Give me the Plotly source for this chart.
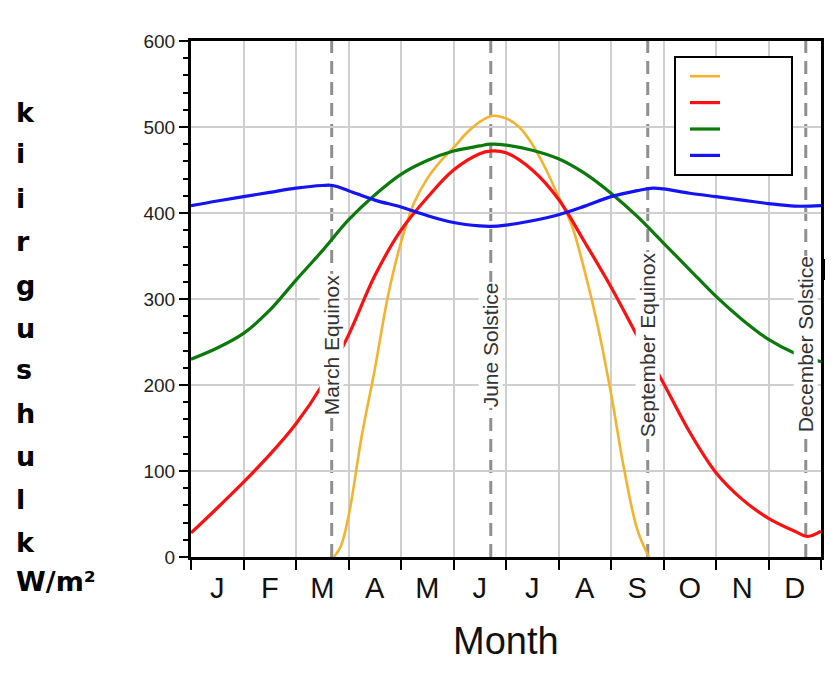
import plotly.graph_objects as go

# ---------------- data (x in months from Jan 1, 0..12) ----------------
month_letters = ["J", "F", "M", "A", "M", "J", "J", "A", "S", "O", "N", "D"]

blue_x = [0, 0.5, 1, 1.5, 2, 2.5, 2.7, 3, 3.5, 4, 4.5, 5, 5.5, 5.7, 6, 6.5, 7,
          7.5, 8, 8.5, 8.8, 9, 9.5, 10, 10.5, 11, 11.5, 12]
blue_vals = [408.5, 414, 419, 424, 429, 432, 432, 426, 415, 407, 397, 389, 385, 384.5,
             386, 391, 398, 408, 419, 426, 429, 428, 423, 419, 415, 411, 408, 408.5]

green_x = [0, 0.5, 1, 1.5, 2, 2.5, 3, 3.5, 4, 4.5, 5, 5.5, 5.7, 6, 6.5, 7,
           7.5, 8, 8.5, 9, 9.5, 10, 10.5, 11, 11.5, 12]
green_vals = [230, 243, 260, 287, 322, 356, 392, 421, 445, 461, 472, 478, 480,
              479, 473, 463, 446, 423, 396, 365, 334, 303, 276, 253, 237, 227]

red_x = [0, 0.5, 1, 1.5, 2, 2.5, 3, 3.5, 4, 4.5, 5, 5.5, 5.7, 6, 6.5, 7,
         7.5, 8, 8.5, 9, 9.5, 10, 10.5, 11, 11.5, 11.75, 12]
red_vals = [28, 57, 87, 119, 155, 200, 258, 327, 380, 418, 450, 469, 472, 470,
            450, 416, 366, 314, 257, 202, 145, 98, 67, 45, 30, 24, 30]

orange_x = [2.72, 2.85, 3, 3.25, 3.5, 3.75, 4, 4.25, 4.5, 4.75, 5, 5.25, 5.5, 5.75,
            6, 6.25, 6.5, 6.75, 7, 7.25, 7.5, 7.75, 8, 8.25, 8.5, 8.72]
orange_vals = [0, 12, 47, 140, 218, 303, 366, 412, 440, 460, 476, 493, 506, 513,
               510, 500, 480, 452, 419, 386, 332, 268, 190, 102, 32, 0]

event_x = [2.68, 5.71, 8.70, 11.71]
event_names = ["March Equinox", "June Solstice", "September Equinox", "December Solstice"]
event_label_y = 247

left_letters = ["k", "i", "i", "r", "g", "u", "s", "h", "u", "l", "k", "W/m²"]

# ---------------- figure ----------------
W, H = 833, 679
OFF = 8  # page body margin
# plot area in screenshot pixels: x 191..821, y 41..557
SX0, SX1, SY0, SY1 = 191, 821, 41, 557
L, T = SX0 - OFF, SY0 - OFF
PW, PH = SX1 - SX0, SY1 - SY0
R, B = W - L - PW, H - T - PH


def py(p):  # screenshot pixel y -> paper y
    return (SY1 - p) / PH


def pxp(p):  # screenshot pixel x -> paper x
    return (p - SX0) / PW


FONT = "Liberation Sans, Arial, sans-serif"

fig = go.Figure()
legend_name = "\u00a0" * 12
series = [
    (orange_x, orange_vals, "#F4B22E", 2.6),
    (red_x, red_vals, "#FF1010", 3.2),
    (green_x, green_vals, "#0B7A0B", 3.2),
    (blue_x, blue_vals, "#1414F5", 3.2),
]
for xs, ys, col, wd in series:
    fig.add_trace(go.Scatter(
        x=xs, y=ys, mode="lines", name=legend_name,
        line=dict(color=col, width=wd, shape="spline", smoothing=1.0),
        hoverinfo="skip"))

# dashed event lines
for ex in event_x:
    fig.add_shape(type="line", xref="x", yref="paper", x0=ex, x1=ex, y0=0, y1=1,
                  line=dict(color="#8f8f8f", width=3, dash="13px,8px"),
                  layer="between")

# event labels
for ex, name in zip(event_x, event_names):
    fig.add_annotation(x=ex, y=event_label_y, xref="x", yref="y", text=name,
                       textangle=-90, showarrow=False, bgcolor="white",
                       borderpad=0,
                       font=dict(family=FONT, size=21, color="#333333"))

# left vertical label
baselines = [121.7, 163, 207, 250, 294, 337, 378, 422, 465, 508, 551, 590]
for ch, bl in zip(left_letters, baselines):
    fig.add_annotation(x=pxp(14), y=py(bl - 9), xref="paper", yref="paper",
                       text=ch, showarrow=False, xanchor="left", yanchor="middle",
                       font=dict(family="DejaVu Sans", size=27, color="black",
                                 weight="bold"))

# x axis title
fig.add_annotation(x=0.5, y=py(641), xref="paper", yref="paper", text="Month",
                   showarrow=False, xanchor="center", yanchor="middle",
                   font=dict(family=FONT, size=38, color="#111111"))

# small artefact mark at right edge
fig.add_shape(type="rect", xref="paper", yref="paper",
              x0=pxp(821), x1=pxp(825), y0=py(280), y1=py(259),
              fillcolor="black", line=dict(width=0), layer="above")

fig.update_layout(
    width=W, height=H,
    margin=dict(l=L, r=R, t=T, b=B, autoexpand=False),
    paper_bgcolor="white", plot_bgcolor="white",
    font=dict(family=FONT, color="#111111"),
    showlegend=True,
    legend=dict(x=pxp(674), y=py(56), xanchor="left", yanchor="top",
                bgcolor="white", bordercolor="black", borderwidth=2,
                font=dict(size=18), indentation=9, tracegroupgap=0),
    xaxis=dict(
        range=[0, 12], showgrid=False, zeroline=False,
        tickmode="array", tickvals=[i + 0.5 for i in range(12)], ticktext=month_letters,
        ticks="", tickfont=dict(size=29, color="#111111"), ticklabelstandoff=3,
        showline=True, linecolor="black", linewidth=3, mirror=True,
        minor=dict(tickmode="array", tickvals=list(range(13)), ticks="outside",
                   ticklen=10, tickwidth=2, tickcolor="black",
                   showgrid=True, gridcolor="#cfcfcf", gridwidth=1.5),
    ),
    yaxis=dict(
        range=[0, 600], dtick=100, tick0=0, showgrid=True, gridcolor="#cfcfcf",
        gridwidth=1.5, zeroline=False,
        ticks="outside", ticklen=9, tickwidth=2, tickcolor="black",
        tickfont=dict(size=19, color="#222222"),
        showline=True, linecolor="black", linewidth=3, mirror=True,
        minor=dict(dtick=20, ticks="outside", ticklen=5, tickwidth=1.5,
                   tickcolor="black", showgrid=False),
    ),
)

fig.write_html("out.html")
